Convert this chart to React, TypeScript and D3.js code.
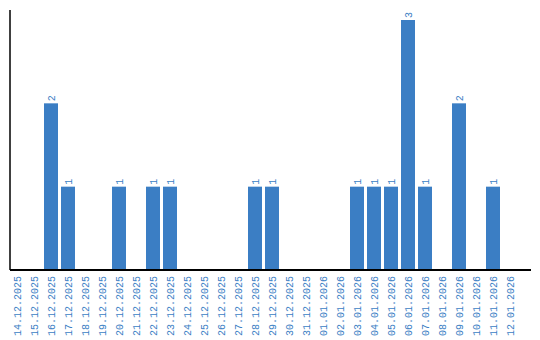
import React from "react";
import * as d3 from "d3";

const categories = [
  "14.12.2025","15.12.2025","16.12.2025","17.12.2025","18.12.2025","19.12.2025",
  "20.12.2025","21.12.2025","22.12.2025","23.12.2025","24.12.2025","25.12.2025",
  "26.12.2025","27.12.2025","28.12.2025","29.12.2025","30.12.2025","31.12.2025",
  "01.01.2026","02.01.2026","03.01.2026","04.01.2026","05.01.2026","06.01.2026",
  "07.01.2026","08.01.2026","09.01.2026","10.01.2026","11.01.2026","12.01.2026",
];
const values = [
  0,0,2,1,0,0,
  1,0,1,1,0,0,
  0,0,1,1,0,0,
  0,0,1,1,1,3,
  1,0,2,0,1,0,
];

const W = 540, H = 340;
const left = 10, right = 531, top = 10, bottom = 270;
const color = "#3b7ec4";
const font = "'Liberation Mono', monospace";

export default function App() {
  const p = 3 / 17;
  const x = d3.scaleBand<string>().domain(categories).range([left, 520]).paddingInner(p).paddingOuter(p / 2).align(0);
  const y = d3.scaleLinear().domain([0, 3]).range([bottom, 20]);
  return (
    <svg width={W} height={H} style={{ position: "absolute", left: 0, top: 0 }}>
      {categories.map((c, i) => {
        const v = values[i];
        const cx = (x(c) as number) + x.bandwidth() / 2;
        return (
          <g key={c}>
            {v > 0 && (
              <>
                <rect x={x(c)} y={y(v)} width={x.bandwidth()} height={bottom - y(v)} fill={color} />
                <text
                  transform={`translate(${cx},${y(v) - 2}) rotate(-90)`}
                  dy="0.35em"
                  fontSize={10}
                  fontFamily={font}
                  fill={color}
                  textAnchor="start"
                >{v}</text>
              </>
            )}
            <text
              transform={`translate(${cx + 0.5},276) rotate(-90)`}
              dy="0.35em"
              fontSize={10}
              fontFamily={font}
              fill={color}
              textAnchor="end"
            >{c}</text>
          </g>
        );
      })}
      <line x1={left} x2={left} y1={top} y2={bottom} stroke="#000" strokeWidth={1.5} />
      <line x1={left} x2={right} y1={bottom} y2={bottom} stroke="#000" strokeWidth={2} />
    </svg>
  );
}
